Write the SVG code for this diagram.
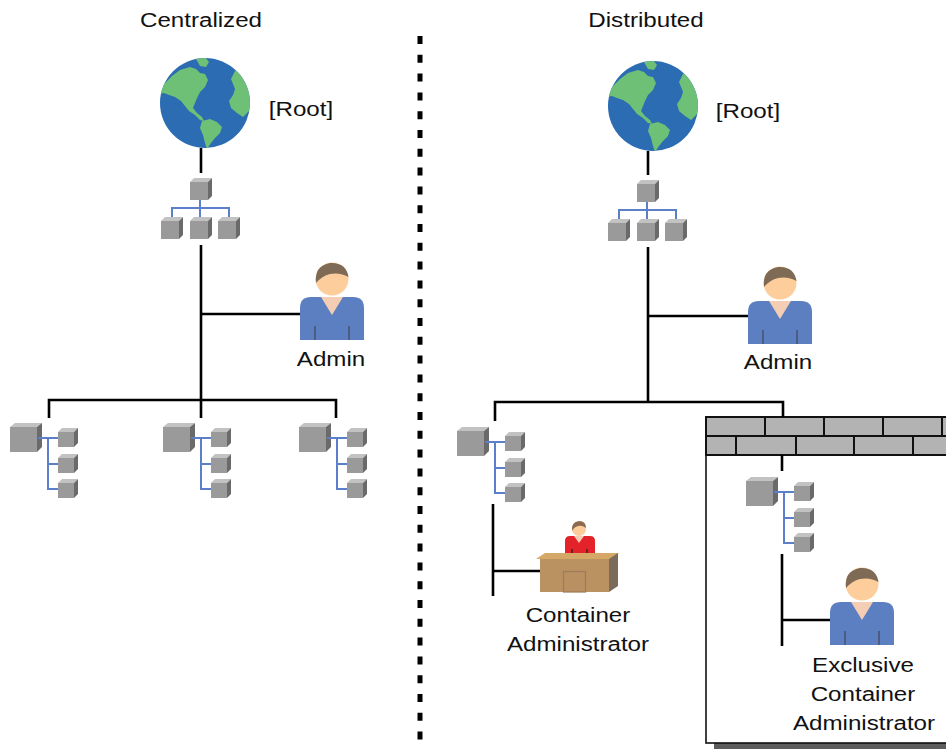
<svg xmlns="http://www.w3.org/2000/svg" xmlns:xlink="http://www.w3.org/1999/xlink" width="946" height="749" viewBox="0 0 946 749">
  <style>
    .lbl { font-family: "Liberation Sans", Arial, sans-serif; font-size: 21px; text-anchor: middle; fill: #111; }
    .wire { stroke: #000; stroke-width: 2.6; fill: none; }
    .net { stroke: #5b7fc8; stroke-width: 2; fill: none; }
    .c-top { fill: #c2c2c2; }
    .c-side { fill: #6a6a6a; }
    .c-front { fill: #9a9a9a; }
    .brick { fill: #b3b3b3; stroke: #111; stroke-width: 2; }
  </style>
  <defs>
    <!-- small server cube -->
    <g id="cubeS">
      <polygon class="c-top" points="0,4 4,0 20,0 16,4"/>
      <polygon class="c-side" points="16,4 20,0 20,15 16,19"/>
      <rect class="c-front" x="0" y="4" width="16" height="15"/>
    </g>
    <!-- medium server cube (top tree) -->
    <g id="cubeM">
      <polygon class="c-top" points="0,4 4,0 22,0 18,4"/>
      <polygon class="c-side" points="18,4 22,0 22,18 18,22"/>
      <rect class="c-front" x="0" y="4" width="18" height="18"/>
    </g>
    <!-- large server cube -->
    <g id="cubeL">
      <polygon class="c-top" points="0,4 5,0 32,0 27,4"/>
      <polygon class="c-side" points="27,4 32,0 32,24 27,29"/>
      <rect class="c-front" x="0" y="4" width="27" height="25"/>
    </g>
    <!-- hierarchy: root server over three servers -->
    <g id="tree">
      <use xlink:href="#cubeM" x="29" y="0"/>
      <path class="net" d="M39,22 V30 M11,39 V30 H68 V39 M39,30 V39"/>
      <use xlink:href="#cubeM" x="0" y="39"/>
      <use xlink:href="#cubeM" x="29" y="39"/>
      <use xlink:href="#cubeM" x="57" y="39"/>
    </g>
    <!-- container: large server feeding three small ones -->
    <g id="branch">
      <use xlink:href="#cubeL" x="0" y="0"/>
      <path class="net" d="M28,15 H48 M38,15 V66 H48 M38,41 H48"/>
      <use xlink:href="#cubeS" x="48" y="5"/>
      <use xlink:href="#cubeS" x="48" y="31"/>
      <use xlink:href="#cubeS" x="48" y="56"/>
    </g>
    <!-- user figure, 64 x 78 -->
    <g id="person">
      <path d="M0,78 V46 Q0,35 11,35 H53 Q64,35 64,46 V78 Z" fill="#5b7fc1"/>
      <polygon points="21,35 43,35 32,53" fill="#f3cdb4"/>
      <circle cx="32" cy="17" r="16.5" fill="#fdcd9c"/>
      <path d="M16,21 Q14,4 30,1 Q46,0 48.5,15 Q40,10 30,12 Q22,14 16,21 Z" fill="#7e6a55"/>
      <path d="M15,64 V78 M49,64 V78" stroke="#4a5570" stroke-width="1.6"/>
    </g>
    <clipPath id="globeClip"><circle cx="0" cy="0" r="45"/></clipPath>
    <!-- earth icon, centred on origin -->
    <g id="globe">
      <circle cx="0" cy="0" r="45" fill="#2b6cb2"/>
      <g clip-path="url(#globeClip)" fill="#6fc077">
        <path d="M-46,-14 L-40,-20 -33,-27 -25,-33 -15,-36 -9,-34 -5,-30 0,-29 3,-23 0,-16 -5,-11 -8,-5 -10,0 -12,5 -8,10 -3,14 -1,18 -5,17 -10,12 -16,8 -20,3 -24,-2 -30,-6 -36,-8 -41,-10 -46,-9 Z"/>
        <path d="M-9,-44 L0,-46 4,-41 1,-36 -5,-37 Z"/>
        <path d="M-3,18 L5,16 12,19 17,24 15,30 10,35 6,40 2,46 0,40 -2,32 -5,25 Z"/>
        <path d="M26,-24 L30,-32 35,-37 39,-31 43,-24 46,-14 47,0 44,8 38,14 32,10 26,5 24,-2 28,-8 30,-14 Z"/>
      </g>
    </g>
  </defs>

  <rect x="0" y="0" width="946" height="749" fill="#ffffff"/>

  <!-- divider between the two models -->
  <line x1="420" y1="36" x2="420" y2="740" stroke="#000" stroke-width="5" stroke-dasharray="8 10.8"/>

  <!-- headings -->
  <g id="heading-centralized"><text class="lbl" transform="translate(201,27) scale(1.15,1)">Centralized</text></g>
  <g id="heading-distributed"><text class="lbl" transform="translate(646,27) scale(1.15,1)">Distributed</text></g>

  <!-- walled-off exclusive container (drawn first so its wires sit on top) -->
  <g id="exclusive-container">
    <rect x="714" y="743" width="240" height="8" fill="#5c5c5c"/>
    <rect x="706" y="417" width="250" height="326" fill="#ffffff" stroke="#111" stroke-width="1.6"/>
    <rect class="brick" x="706" y="417" width="250" height="19"/>
    <rect class="brick" x="706" y="436" width="250" height="19"/>
    <path d="M765,417 V436 M824,417 V436 M883,417 V436 M942,417 V436 M736,436 V455 M796,436 V455 M854,436 V455 M913,436 V455" stroke="#111" stroke-width="2"/>
    <use xlink:href="#branch" x="746" y="477"/>
  </g>

  <!-- connectors -->
  <g id="connectors">
    <path class="wire" d="M201,148 V173"/>
    <path class="wire" d="M201,245 V400"/>
    <path class="wire" d="M201,314 H300"/>
    <path class="wire" d="M49,418 V400 H336 V418 M201,400 V418"/>

    <path class="wire" d="M648,151 V175"/>
    <path class="wire" d="M648,247 V402"/>
    <path class="wire" d="M648,316 H748"/>
    <path class="wire" d="M495,421 V402 H783 V417"/>
    <path class="wire" d="M782,455 V471"/>
    <path class="wire" d="M493,504 V596 M493,571 H540"/>
    <path class="wire" d="M782,554 V646 M782,620 H830"/>
  </g>

  <!-- centralized side -->
  <g id="root-left">
    <use xlink:href="#globe" transform="translate(205,103)"/>
    <text class="lbl" transform="translate(301,116) scale(1.15,1)">[Root]</text>
  </g>
  <g id="tree-left"><use xlink:href="#tree" x="161" y="178"/></g>
  <g id="admin-left">
    <use xlink:href="#person" x="300" y="262"/>
    <text class="lbl" transform="translate(331,366) scale(1.15,1)">Admin</text>
  </g>
  <g id="container-left-1"><use xlink:href="#branch" x="10" y="423"/></g>
  <g id="container-left-2"><use xlink:href="#branch" x="163" y="423"/></g>
  <g id="container-left-3"><use xlink:href="#branch" x="299" y="423"/></g>

  <!-- distributed side -->
  <g id="root-right">
    <use xlink:href="#globe" transform="translate(653,106)"/>
    <text class="lbl" transform="translate(748,118) scale(1.15,1)">[Root]</text>
  </g>
  <g id="tree-right"><use xlink:href="#tree" x="608" y="180"/></g>
  <g id="admin-right">
    <use xlink:href="#person" x="748" y="266"/>
    <text class="lbl" transform="translate(778,369) scale(1.15,1)">Admin</text>
  </g>
  <g id="container-right"><use xlink:href="#branch" x="457" y="427"/></g>

  <g id="container-admin">
    <!-- person behind desk -->
    <path d="M565,553 V541 Q565,536 570,536 H590 Q595,536 595,541 V553 Z" fill="#e3222a"/>
    <polygon points="574,536 584,536 579,543" fill="#f3cdb4"/>
    <circle cx="579" cy="529" r="7" fill="#fdcd9c"/>
    <path d="M572,531 Q571,522 579,521 Q586,521 586,528 Q582,525 578,526 Q574,527 572,531 Z" fill="#8b6a50"/>
    <path d="M572,549 V553 M587,549 V553" stroke="#222" stroke-width="1.2"/>
    <!-- desk -->
    <polygon points="536,559 545,553 619,553 610,559" fill="#d5a868"/>
    <polygon points="609,559 618,553 618,586 609,592" fill="#7b6b5a"/>
    <rect x="540" y="559" width="69" height="33" fill="#ba9161"/>
    <rect x="563.5" y="571.5" width="22" height="20.5" fill="#b99062" stroke="#9c7c58" stroke-width="1.2"/>
    <text class="lbl" transform="translate(578,622) scale(1.15,1)">Container</text>
    <text class="lbl" transform="translate(578,651) scale(1.15,1)">Administrator</text>
  </g>

  <g id="exclusive-admin">
    <use xlink:href="#person" x="830" y="567"/>
    <text class="lbl" transform="translate(863,672) scale(1.15,1)">Exclusive</text>
    <text class="lbl" transform="translate(863,701) scale(1.15,1)">Container</text>
    <text class="lbl" transform="translate(864,730) scale(1.15,1)">Administrator</text>
  </g>
</svg>
